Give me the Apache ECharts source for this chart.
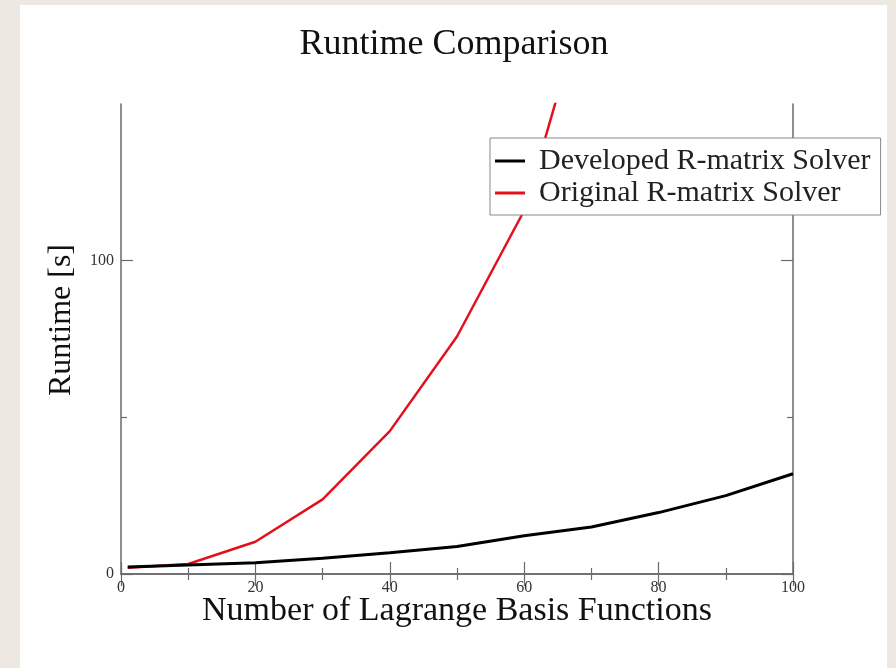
<!DOCTYPE html>
<html>
<head>
<meta charset="utf-8">
<script src="https://cdn.jsdelivr.net/npm/echarts@6/dist/echarts.min.js"></script>
<style>
html,body{margin:0;padding:0;background:#ede9e2;}
#chart{width:896px;height:668px;}
</style>
</head>
<body>
<div id="chart"></div>
<script>
// Data
const basisFunctions = [1, 10, 20, 30, 40, 50, 60, 70, 80, 90, 100];
const developedRuntime = [2.2, 2.9, 3.6, 5.0, 6.8, 8.8, 12.2, 15.0, 19.6, 25.0, 32.0];
const originalRuntime = [2.0, 3.2, 10.3, 23.8, 45.6, 75.8, 116, 190];
const seriesNames = ['Developed R-matrix Solver', 'Original R-matrix Solver'];
const xTicks = [0, 20, 40, 60, 80, 100];
const yTicks = [0, 100];
const yMinorTicks = [50];

const SERIF = '"Liberation Serif", "DejaVu Serif", serif';
const AXIS_COLOR = '#6a6a6a';

const chart = echarts.init(document.getElementById('chart'), null, {renderer: 'canvas'});

function pairs(xs, ys) { return ys.map((y, i) => [xs[i], y]); }

const axisLine = {show: true, lineStyle: {color: AXIS_COLOR, width: 1.5}};
const tickStyle = {color: AXIS_COLOR, width: 1.2};

function xAxisDef(pos, showLabel) {
  return {
    type: 'value', position: pos, min: xTicks[0], max: xTicks[xTicks.length - 1], interval: xTicks[1] - xTicks[0],
    axisLine: axisLine,
    axisTick: {show: true, inside: true, length: 12, lineStyle: tickStyle},
    minorTick: {show: true, splitNumber: 2, length: 6, lineStyle: tickStyle},
    axisLabel: {show: showLabel, margin: 6, fontSize: 16, color: '#333', fontFamily: SERIF},
    splitLine: {show: false}, minorSplitLine: {show: false}
  };
}
function yAxisDef(pos, values, tickLen, showLine, showLabel) {
  return {
    type: 'value', position: pos, min: 0, max: 150, interval: 50,
    axisLine: Object.assign({}, axisLine, {show: showLine}),
    axisTick: {show: true, inside: true, length: tickLen, lineStyle: tickStyle, customValues: values},
    axisLabel: {show: showLabel, margin: 7, fontSize: 16, color: '#333', fontFamily: SERIF, customValues: values},
    splitLine: {show: false}
  };
}

chart.setOption({
  animation: false,
  backgroundColor: '#ede9e2',
  graphic: [
    {type: 'rect', z: -10, silent: true, shape: {x: 20, y: 5, width: 867, height: 663}, style: {fill: '#ffffff'}},
    {type: 'text', x: 454, y: 45, z: 10, style: {text: 'Runtime Comparison', font: '36px ' + SERIF, fill: '#111', textAlign: 'center', textVerticalAlign: 'middle'}},
    {type: 'text', x: 457, y: 611, z: 10, style: {text: 'Number of Lagrange Basis Functions', font: '34px ' + SERIF, fill: '#111', textAlign: 'center', textVerticalAlign: 'middle'}},
    {type: 'text', x: 62, y: 320, rotation: Math.PI / 2, z: 10, style: {text: 'Runtime [s]', font: '32px ' + SERIF, fill: '#111', textAlign: 'center', textVerticalAlign: 'middle'}}
  ],
  grid: {left: 121, right: 103, top: 104, bottom: 94, containLabel: false},
  xAxis: [xAxisDef('bottom', true), xAxisDef('top', false)],
  yAxis: [
    yAxisDef('left', yTicks, 12, true, true),
    yAxisDef('left', yMinorTicks, 6, false, false),
    yAxisDef('right', yTicks, 12, true, false),
    yAxisDef('right', yMinorTicks, 6, false, false)
  ],
  legend: {
    orient: 'vertical', left: 490, top: 138,
    backgroundColor: '#ffffff', borderColor: '#888', borderWidth: 1,
    padding: [8, 10, 7, 5], itemGap: 2,
    itemWidth: 30, itemHeight: 3, icon: 'rect',
    textStyle: {fontFamily: SERIF, fontSize: 30, lineHeight: 30, color: '#222', padding: [0, 0, 0, 9]},
    data: seriesNames
  },
  series: [
    {name: seriesNames[0], type: 'line', xAxisIndex: 0, yAxisIndex: 0, symbol: 'none', clip: true,
     lineStyle: {color: '#000', width: 3}, itemStyle: {color: '#000'},
     data: pairs(basisFunctions, developedRuntime), z: 3},
    {name: seriesNames[1], type: 'line', xAxisIndex: 0, yAxisIndex: 0, symbol: 'none', clip: true,
     lineStyle: {color: '#e3111b', width: 2.5}, itemStyle: {color: '#e3111b'},
     data: pairs(basisFunctions, originalRuntime), z: 2}
  ]
});
</script>
</body>
</html>
